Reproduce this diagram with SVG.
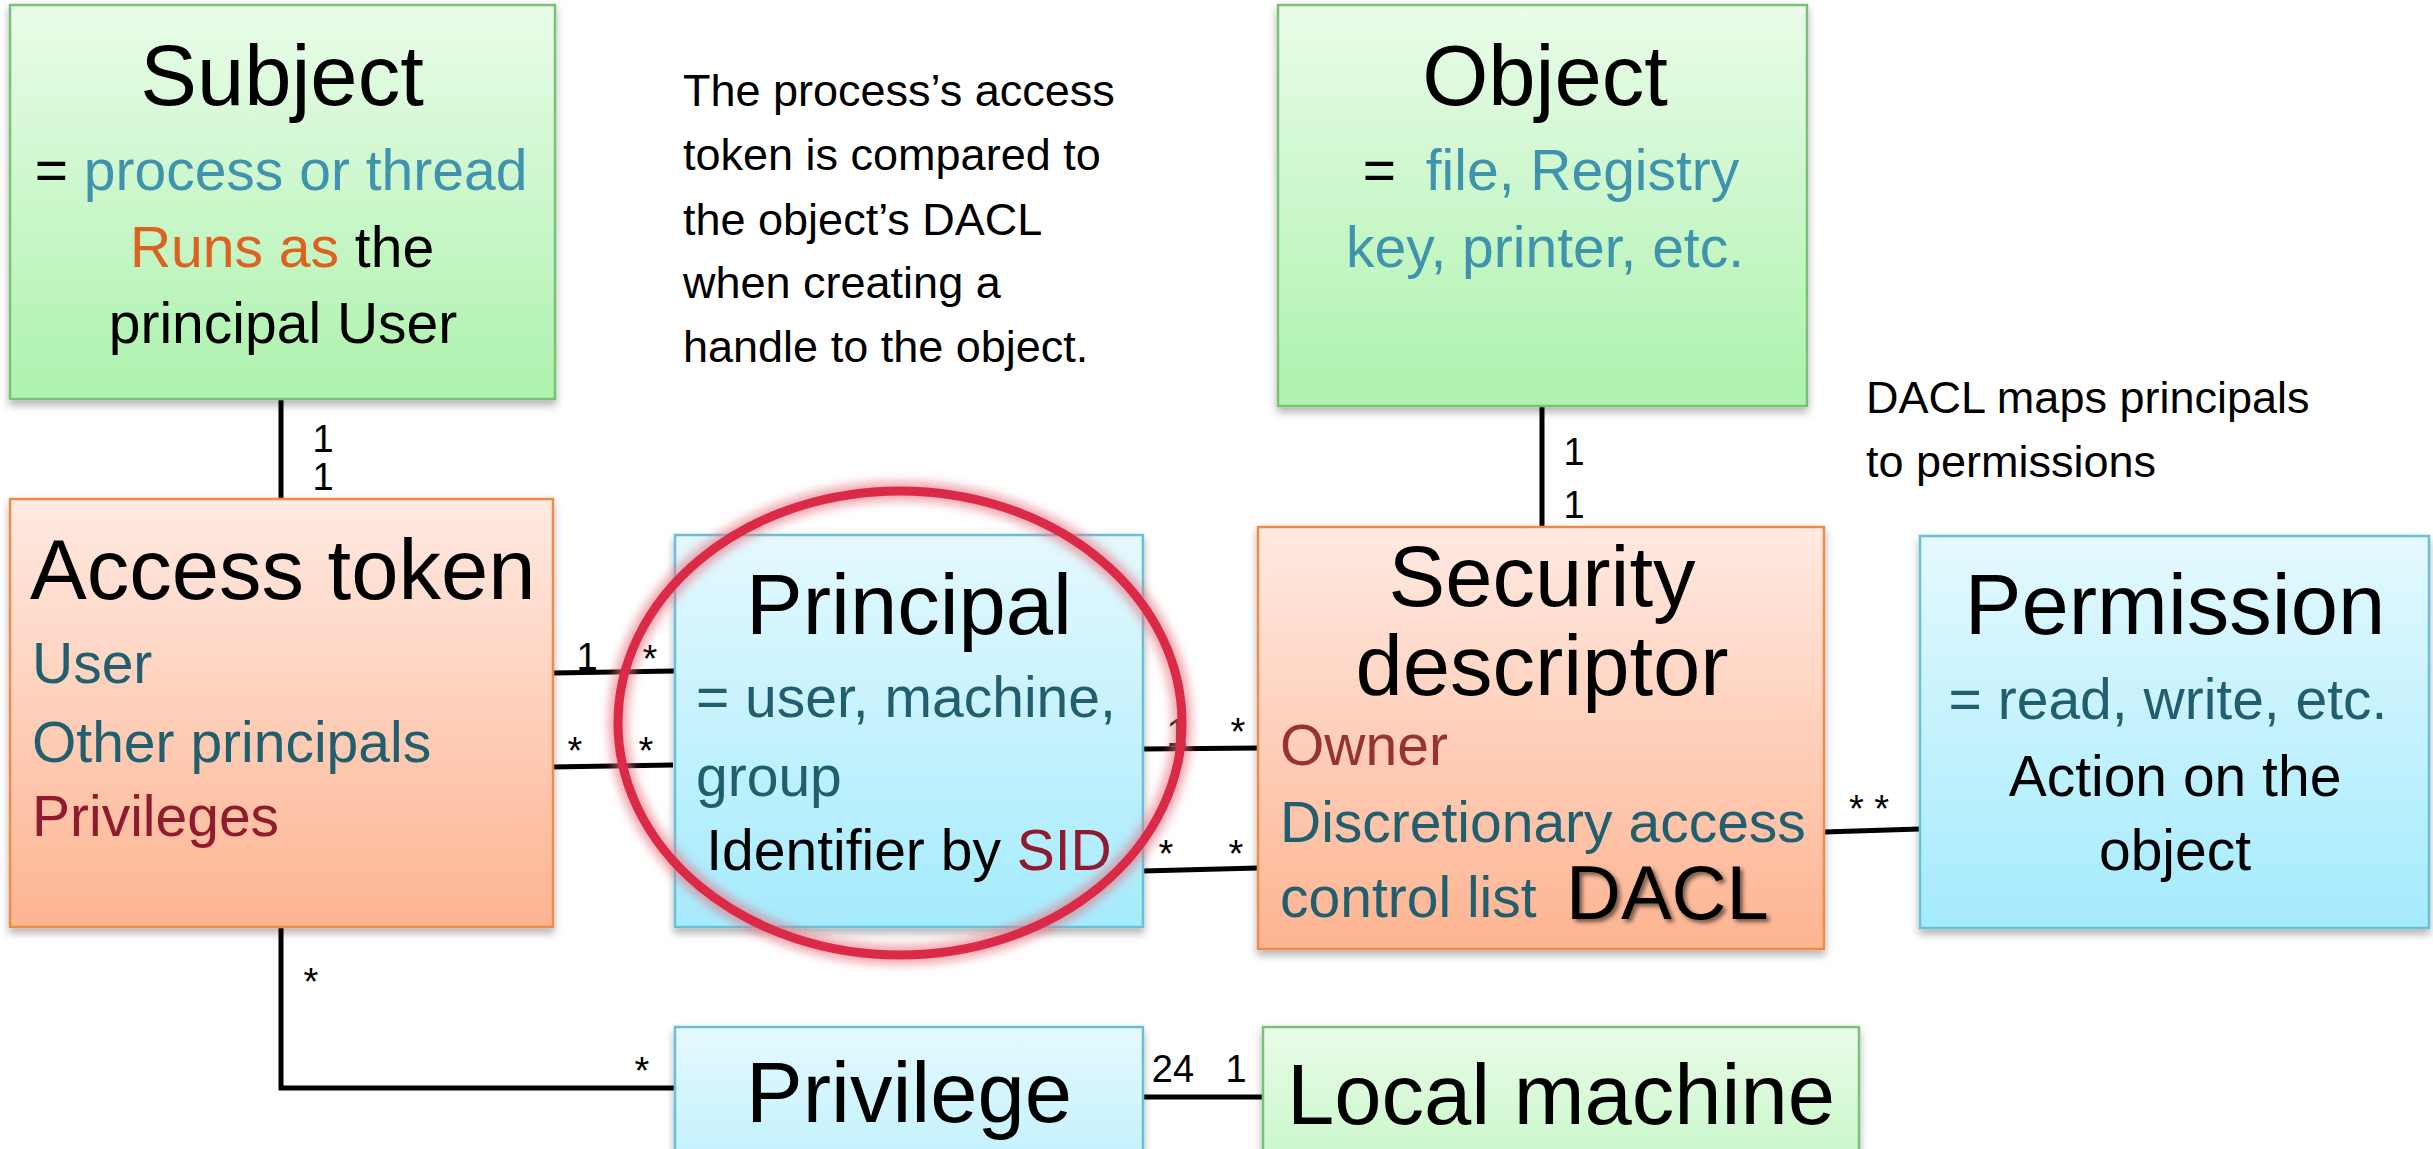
<svg xmlns="http://www.w3.org/2000/svg" width="2433" height="1149" viewBox="0 0 2433 1149">
<style>
text{font-family:"Liberation Sans",Arial,sans-serif;fill:#000}
.title{font-size:85px}
.body{font-size:57px}
.desc{font-size:45px}
.lbl{font-size:38px}
.mid{text-anchor:middle}
.teal{fill:#3F93AD}
.orng{fill:#DD6220}
.dteal{fill:#215F6E}
.dred{fill:#8E1B2E}
.owner{fill:#973234}
.conn{stroke:#000;stroke-width:5;fill:none}
.green{fill:url(#gGreen);stroke:#79C177;stroke-width:2.5}
.orange{fill:url(#gOrange);stroke:#F08A4B;stroke-width:2.5}
.blue{fill:url(#gBlue);stroke:#6BBFD8;stroke-width:2.5}
</style>
<defs>
<linearGradient id="gGreen" x1="0" y1="0" x2="0" y2="1"><stop offset="0" stop-color="#E9FCE9"/><stop offset="1" stop-color="#ADF2AD"/></linearGradient>
<linearGradient id="gOrange" x1="0" y1="0" x2="0" y2="1"><stop offset="0" stop-color="#FFEAE2"/><stop offset="1" stop-color="#FDB491"/></linearGradient>
<linearGradient id="gBlue" x1="0" y1="0" x2="0" y2="1"><stop offset="0" stop-color="#E4F9FE"/><stop offset="1" stop-color="#A5EBFD"/></linearGradient>
<filter id="shadow" x="-5%" y="-5%" width="110%" height="115%"><feDropShadow dx="0" dy="5" stdDeviation="4" flood-color="#000" flood-opacity="0.3"/></filter>
<filter id="tshadow" x="-10%" y="-20%" width="130%" height="150%"><feDropShadow dx="3" dy="3" stdDeviation="2" flood-color="#000" flood-opacity="0.55"/></filter>
<filter id="glow" x="-20%" y="-20%" width="140%" height="140%"><feGaussianBlur stdDeviation="5"/></filter>
</defs>

<g id="connectors">
<path class="conn" d="M281 399 V499"/>
<path class="conn" d="M1542 406 V527"/>
<path class="conn" d="M553 673 L675 671"/>
<path class="conn" d="M551 767 L673 765"/>
<path class="conn" d="M1143 749 L1262 748"/>
<path class="conn" d="M1143 871 L1258 868"/>
<path class="conn" d="M1824 832 L1920 829"/>
<path class="conn" d="M281 927 V1088 H675"/>
<path class="conn" d="M1143 1097 H1263"/>
<text class="lbl mid" x="323" y="452">1<tspan x="323" dy="38">1</tspan></text>
<text class="lbl mid" x="1574" y="465">1<tspan x="1574" dy="53">1</tspan></text>
<text class="lbl mid" x="587" y="670">1</text>
<text class="lbl mid" x="650" y="672">*</text>
<text class="lbl mid" x="575" y="764">*</text>
<text class="lbl mid" x="646" y="764">*</text>
<text class="lbl mid" x="1177" y="746">1</text>
<text class="lbl mid" x="1238" y="745">*</text>
<text class="lbl mid" x="1166" y="867">*</text>
<text class="lbl mid" x="1236" y="867">*</text>
<text class="lbl mid" x="1869" y="822">* *</text>
<text class="lbl mid" x="311" y="995">*</text>
<text class="lbl mid" x="642" y="1084">*</text>
<text class="lbl mid" x="1173" y="1082">24</text>
<text class="lbl mid" x="1236" y="1082">1</text>
</g>

<g id="subject">
<rect class="green" x="10" y="5" width="545" height="394" filter="url(#shadow)"/>
<text class="title mid" x="282" y="105">Subject</text>
<text class="body mid" x="281" y="190">= <tspan class="teal">process or thread</tspan></text>
<text class="body mid" x="282" y="267"><tspan class="orng">Runs as</tspan> the</text>
<text class="body mid" x="283" y="343">principal User</text>
</g>

<g id="note-process">
<text class="desc" x="683" y="106">The process’s access</text>
<text class="desc" x="683" y="170">token is compared to</text>
<text class="desc" x="683" y="235">the object’s DACL</text>
<text class="desc" x="683" y="298">when creating a</text>
<text class="desc" x="683" y="362">handle to the object.</text>
</g>

<g id="object">
<rect class="green" x="1278" y="5" width="529" height="401" filter="url(#shadow)"/>
<text class="title mid" x="1545" y="105">Object</text>
<text class="body mid" x="1551" y="190">= <tspan class="teal" dx="14">file, Registry</tspan></text>
<text class="body mid teal" x="1545" y="267">key, printer, etc.</text>
</g>

<g id="note-dacl">
<text class="desc" x="1866" y="413">DACL maps principals</text>
<text class="desc" x="1866" y="477">to permissions</text>
</g>

<g id="access-token">
<rect class="orange" x="10" y="499" width="543" height="428" filter="url(#shadow)"/>
<text class="title" x="30" y="599">Access token</text>
<text class="body dteal" x="32" y="683">User</text>
<text class="body dteal" x="32" y="762">Other principals</text>
<text class="body dred" x="32" y="836">Privileges</text>
</g>

<g id="principal">
<rect class="blue" x="675" y="535" width="468" height="392" filter="url(#shadow)"/>
<text class="title mid" x="909" y="634">Principal</text>
<text class="body dteal" x="696" y="717">= user, machine,</text>
<text class="body dteal" x="696" y="796">group</text>
<text class="body mid" x="909" y="870">Identifier by <tspan class="dred">SID</tspan></text>
</g>

<g id="security-descriptor">
<rect class="orange" x="1258" y="527" width="566" height="422" filter="url(#shadow)"/>
<text class="title mid" x="1542" y="606">Security</text>
<text class="title mid" x="1542" y="695">descriptor</text>
<text class="body owner" x="1280" y="765">Owner</text>
<text class="body dteal" x="1280" y="842">Discretionary access</text>
<text class="body dteal" x="1280" y="917">control list</text>
<text x="1566" y="919" font-size="76" filter="url(#tshadow)">DACL</text>
</g>

<g id="permission">
<rect class="blue" x="1920" y="536" width="509" height="392" filter="url(#shadow)"/>
<text class="title mid" x="2175" y="634">Permission</text>
<text class="body mid dteal" x="2168" y="719">= read, write, etc.</text>
<text class="body mid" x="2175" y="796">Action on the</text>
<text class="body mid" x="2175" y="870">object</text>
</g>

<g id="privilege">
<rect class="blue" x="675" y="1027" width="468" height="260" filter="url(#shadow)"/>
<text class="title mid" x="909" y="1122">Privilege</text>
</g>

<g id="local-machine">
<rect class="green" x="1263" y="1027" width="596" height="260" filter="url(#shadow)"/>
<text class="title mid" x="1561" y="1124">Local machine</text>
</g>

<g id="highlight">
<ellipse cx="900" cy="723" rx="282" ry="232" fill="none" stroke="#E8707F" stroke-width="20" stroke-opacity="0.6" filter="url(#glow)"/>
<ellipse cx="900" cy="723" rx="282" ry="232" fill="none" stroke="#DA2A47" stroke-width="9"/>
</g>
</svg>
